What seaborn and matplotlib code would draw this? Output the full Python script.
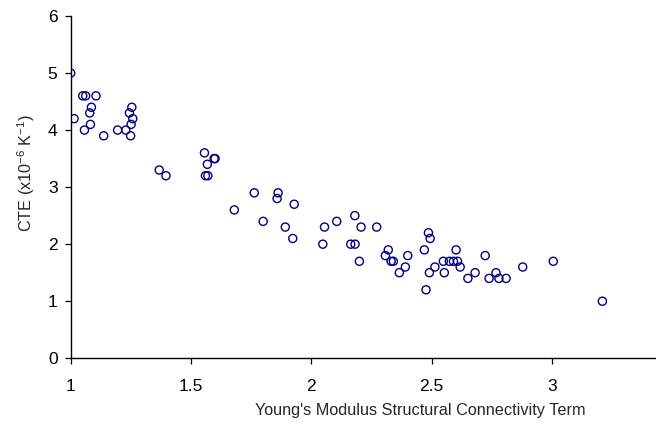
import matplotlib
matplotlib.use("Agg")
import matplotlib.pyplot as plt
import seaborn as sns
import pandas as pd

x_vals = [1.000, 1.050, 1.062, 1.105, 1.086, 1.079, 1.014, 1.082, 1.057, 1.137,
          1.195, 1.229, 1.254, 1.244, 1.258, 1.251, 1.249,
          1.368, 1.396, 1.556, 1.596, 1.600, 1.568, 1.560, 1.570, 1.763, 1.862,
          1.858, 1.680, 1.800,
          1.929, 1.892, 1.923, 2.055, 2.048, 2.106, 2.181, 2.207, 2.272, 2.164,
          2.182, 2.200, 2.320, 2.308, 2.332, 2.341, 2.401, 2.391, 2.366,
          2.487, 2.494, 2.470, 2.514, 2.491, 2.477, 2.549, 2.574, 2.591, 2.608,
          2.553, 2.602, 2.619, 2.651, 2.681, 2.723, 2.739, 2.768, 2.780, 2.810,
          2.879, 3.006, 3.210]
y_vals = [5.0, 4.6, 4.6, 4.6, 4.4, 4.3, 4.2, 4.1, 4.0, 3.9,
          4.0, 4.0, 4.4, 4.3, 4.2, 4.1, 3.9,
          3.3, 3.2, 3.6, 3.5, 3.5, 3.4, 3.2, 3.2, 2.9, 2.9,
          2.8, 2.6, 2.4,
          2.7, 2.3, 2.1, 2.3, 2.0, 2.4, 2.5, 2.3, 2.3, 2.0,
          2.0, 1.7, 1.9, 1.8, 1.7, 1.7, 1.8, 1.6, 1.5,
          2.2, 2.1, 1.9, 1.6, 1.5, 1.2, 1.7, 1.7, 1.7, 1.7,
          1.5, 1.9, 1.6, 1.4, 1.5, 1.8, 1.4, 1.5, 1.4, 1.4,
          1.6, 1.7, 1.0]

x_ticks = [1, 1.5, 2, 2.5, 3]
x_tick_labels = ["1", "1.5", "2", "2.5", "3"]
y_ticks = [0, 1, 2, 3, 4, 5, 6]

df = pd.DataFrame({"x": x_vals, "y": y_vals})

sns.set_theme(style="ticks")
plt.rcParams["font.family"] = ["Liberation Sans", "DejaVu Sans"]
plt.rcParams["mathtext.fontset"] = "custom"
plt.rcParams["mathtext.rm"] = "Liberation Sans"
plt.rcParams["mathtext.it"] = "Liberation Sans"
plt.rcParams["mathtext.default"] = "regular"

fig = plt.figure(figsize=(6.56, 4.25), dpi=100)
ax = fig.add_axes([0.1078, 0.157, 0.8922, 0.8054])

sns.scatterplot(data=df, x="x", y="y", ax=ax, marker="o", s=34,
                facecolor="none", edgecolor="#000080", linewidth=1.0)

ax.set_xlim(1, 3.433)
ax.set_ylim(0, 6)
ax.set_xticks(x_ticks)
ax.set_xticklabels(x_tick_labels)
ax.set_yticks(y_ticks)
for s in ["top", "right"]:
    ax.spines[s].set_visible(False)
for s in ["left", "bottom"]:
    ax.spines[s].set_color("black")
    ax.spines[s].set_linewidth(1.0)
ax.tick_params(direction="out", length=4, width=0.9, colors="black",
               labelsize=12.5)
ax.tick_params(axis="x", pad=11)
ax.tick_params(axis="y", pad=5.5)

ax.set_xlabel("Young's Modulus Structural Connectivity Term", fontsize=11.7)
ax.set_ylabel(r"CTE (x10$^{-6}$ K$^{-1}$)", fontsize=11.7)
ax.xaxis.set_label_coords(0.597, -0.13)
ax.yaxis.set_label_coords(-0.058, 0.54)
ax.grid(False)

fig.savefig("out.png", dpi=100)
